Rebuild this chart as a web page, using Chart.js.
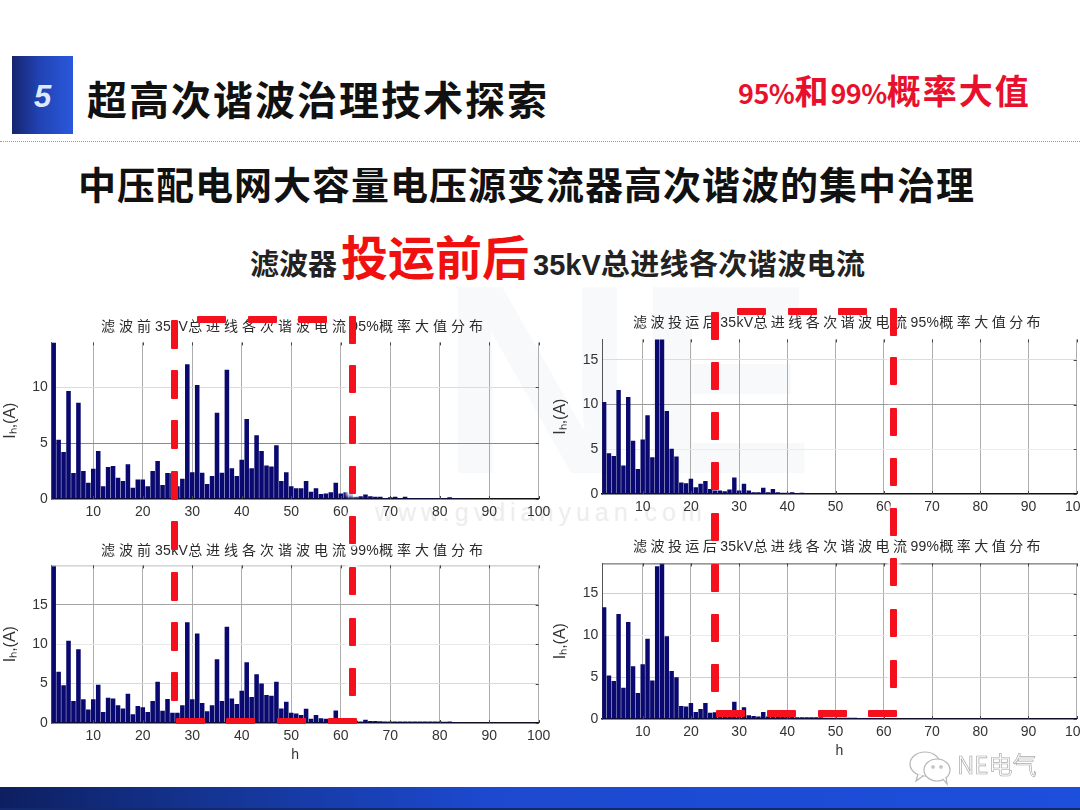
<!DOCTYPE html>
<html lang="zh">
<head>
<meta charset="utf-8">
<title>超高次谐波治理技术探索</title>
<script src="https://cdn.jsdelivr.net/npm/chart.js@4"></script>
<style>
html, body { margin: 0; padding: 0; background: #fff; }
body { position: relative; width: 1080px; height: 810px; overflow: hidden; font-family: "Noto Sans CJK SC", sans-serif; }
.abs { position: absolute; white-space: nowrap; }
#badge { left: 12px; top: 56px; width: 61px; height: 78px; background: linear-gradient(90deg, #16246e 0%, #2143b4 45%, #2a58dc 100%); box-shadow: 0 0 3px #fff; }
#badge span { position: absolute; left: 0; right: 0; top: 23px; text-align: center; color: #dfe9ff; font: italic bold 31px "Liberation Sans", sans-serif; }
#head { left: 87px; top: 68px; font-size: 40px; line-height: 60px; font-weight: 700; letter-spacing: 2px; color: #111; }
#prob { left: 738px; top: 65px; font-size: 34px; line-height: 50px; font-weight: 700; letter-spacing: 2px; color: #e8112d; }
#prob i { font-style: normal; font-size: 27px; letter-spacing: -.5px; }
#rule { left: 0; top: 141px; width: 1080px; border-top: 1px dotted #999; }
#sub { left: 78px; top: 155px; font-size: 38px; line-height: 56px; font-weight: 700; letter-spacing: 1px; color: #111; }
#line3a { left: 250px; top: 240px; font-size: 29px; line-height: 44px; font-weight: 700; color: #222; }
#line3b { left: 341px; top: 220px; font-size: 47px; line-height: 70px; font-weight: 700; color: #f01010; }
#line3c { left: 533px; top: 240px; font-size: 29px; line-height: 44px; font-weight: 700; color: #222; letter-spacing: .4px; }
#line3c i { font-style: normal; font-family: "Liberation Sans", sans-serif; letter-spacing: 0; }
#markNE { left: 440px; top: 230px; font: bold 270px/300px "Liberation Sans", sans-serif; color: #f8f9fa; }
#markUrl { left: 375px; top: 497px; font: 25px/30px "Liberation Sans", sans-serif; letter-spacing: 5px; color: #ededed; }
canvas { position: absolute; display: block; }
.title { font-size: 14px; line-height: 20px; letter-spacing: 4px; color: #2a2a2a; }
.title.after { letter-spacing: 3.45px; }
.title i { font-style: normal; font-family: "Liberation Sans", sans-serif; letter-spacing: .3px; }
.dash { position: absolute; background: #f5101e; border-radius: 1px; }
.halo { box-shadow: 0 0 3px 3px rgba(255,255,255,.8); }
#bar { left: 0; top: 787px; width: 1080px; height: 23px; background: linear-gradient(90deg, #0d1f60 0%, #14338f 18%, #1c49cf 45%, #1c4fdc 100%); border-bottom: 2px solid #12296e; box-sizing: border-box; }
#wx { left: 908px; top: 750px; }
#ne { left: 957px; top: 746px; font-size: 24px; line-height: 36px; color: #fff; -webkit-text-stroke: .7px #a9a9a9; }
</style>
</head>
<body>
<div class="abs" id="markNE">NE</div>
<div class="abs" id="markUrl">www.gvdianyuan.com</div>
<div class="abs" id="badge"><span>5</span></div>
<div class="abs" id="head">超高次谐波治理技术探索</div>
<div class="abs" id="prob"><i>95%</i>和<i>99%</i>概率大值</div>
<div class="abs" id="rule"></div>
<div class="abs" id="sub">中压配电网大容量电压源变流器高次谐波的集中治理</div>
<div class="abs" id="line3a">滤波器</div>
<div class="abs" id="line3b">投运前后</div>
<div class="abs" id="line3c"><i>35kV</i>总进线各次谐波电流</div>

<canvas id="chartBefore95" style="left:0;top:330px" width="560" height="190"></canvas>
<canvas id="chartBefore99" style="left:0;top:553px" width="560" height="213"></canvas>
<canvas id="chartAfter95" style="left:550px;top:327px" width="550" height="190"></canvas>
<canvas id="chartAfter99" style="left:550px;top:551px" width="550" height="211"></canvas>

<div class="abs title" style="left:101px;top:315px">滤波前<i>35kV</i>总进线各次谐波电流<i>95%</i>概率大值分布</div>
<div class="abs title" style="left:101px;top:539px">滤波前<i>35kV</i>总进线各次谐波电流<i>99%</i>概率大值分布</div>
<div class="abs title after" style="left:633px;top:311px">滤波投运后<i>35kV</i>总进线各次谐波电流<i>95%</i>概率大值分布</div>
<div class="abs title after" style="left:633px;top:535px">滤波投运后<i>35kV</i>总进线各次谐波电流<i>99%</i>概率大值分布</div>

<div id="dashes"></div>

<div class="abs" id="bar"></div>
<svg class="abs" id="wx" width="46" height="36" viewBox="0 0 46 36" fill="#fff" stroke="#b5b5b5" stroke-width="1.2">
  <ellipse cx="17" cy="14" rx="15" ry="12"/>
  <path d="M10 24 L8 31 L15 26"/>
  <ellipse cx="29" cy="20" rx="13" ry="11"/>
  <path d="M35 29 L39 34 L38 27"/>
  <circle cx="25" cy="17" r="1.2"/>
  <circle cx="33" cy="17" r="1.2"/>
</svg>
<div class="abs" id="ne">NE电气</div>

<script>
// Datos
const harmonics = [2, 3, 4, 5, 6, 7, 8, 9, 10, 11, 12, 13, 14, 15, 16, 17, 18, 19, 20, 21, 22, 23, 24, 25, 26, 27, 28, 29, 30, 31,
    32, 33, 34, 35, 36, 37, 38, 39, 40, 41, 42, 43, 44, 45, 46, 47, 48, 49, 50, 51, 52, 53, 54, 55, 56, 57, 58, 59, 60, 61,
    62, 63, 64, 65, 66, 67, 68, 69, 70, 71, 72, 73, 74, 75, 76, 77, 78, 79, 80, 81, 82, 83, 84, 85, 86, 87, 88, 89, 90, 91,
    92, 93, 94, 95, 96, 97, 98, 99, 100];

const before95 = [14, 5.3, 4.2, 9.65, 2.33, 8.6, 2.5, 1.45, 2.7, 4.3, 1.15, 2.85, 2.95, 1.9, 1.6, 3.1, 1.0, 1.75, 1.75, 1.15, 2.5, 3.4, 1.25, 2.33, 2.3, 1.15, 1.8, 12.05, 2.4, 10.2,
    2.35, 1.35, 2.05, 7.7, 2.35, 11.55, 2.75, 2.05, 3.5, 7.15, 2.75, 5.7, 4.3, 3.0, 2.9, 4.8, 1.6, 2.4, 1.15, 0.95, 0.95, 1.6, 0.65, 0.95, 0.45, 0.5, 0.6, 1.45, 0.5, 0.6,
    0.5, 0.2, 0.25, 0.4, 0.25, 0.2, 0.2, 0.1, 0.15, 0.2, 0.1, 0.2, 0.1, 0.1, 0.08, 0.08, 0.08, 0.08, 0.1, 0.08, 0.15, 0.08, 0.06, 0.06, 0.06, 0.05, 0.05, 0.05, 0.05, 0.05,
    0.05, 0.05, 0.05, 0.05, 0.05, 0.05, 0.05, 0.05, 0.05];

const before99 = [20, 6.5, 4.8, 10.45, 2.8, 9.35, 3.0, 1.7, 3.0, 4.85, 1.4, 3.2, 3.1, 2.25, 1.85, 3.7, 1.1, 2.15, 2.0, 1.4, 2.8, 5.25, 1.55, 3.05, 1.3, 1.3, 2.25, 12.8, 3.0, 11.35,
    2.55, 1.5, 2.25, 8.1, 2.8, 12.2, 3.1, 2.4, 4.1, 7.7, 3.3, 6.2, 5.0, 3.55, 3.45, 5.25, 1.85, 2.7, 1.3, 1.2, 1.0, 1.8, 0.55, 1.0, 0.6, 0.55, 0.35, 1.6, 0.4, 0.4,
    0.35, 0.3, 0.2, 0.4, 0.25, 0.25, 0.22, 0.2, 0.2, 0.2, 0.2, 0.18, 0.18, 0.18, 0.18, 0.18, 0.18, 0.18, 0.2, 0.15, 0.2, 0.1, 0.1, 0.08, 0.08, 0.08, 0.08, 0.08, 0.08, 0.08,
    0.08, 0.08, 0.08, 0.08, 0.08, 0.08, 0.08, 0.08, 0.08];

const after95 = [10.3, 4.55, 4.25, 11.65, 3.2, 10.85, 5.95, 2.8, 6.1, 8.8, 4.1, 17.4, 17.4, 9.3, 5.05, 4.2, 1.3, 1.2, 1.7, 0.75, 1.15, 1.45, 0.55, 0.4, 0.4, 0.3, 0.5, 1.85, 0.4, 1.15,
    0.4, 0.2, 0.2, 0.7, 0.2, 0.55, 0.2, 0.15, 0.15, 0.2, 0.1, 0.15, 0.08, 0.08, 0.08, 0.12, 0.08, 0.06, 0.06, 0.06, 0.06, 0.06, 0.06, 0.06, 0.06, 0.06, 0.05, 0.05, 0.05, 0.05,
    0.05, 0.05, 0.05, 0.05, 0.05, 0.05, 0.05, 0.05, 0.05, 0.05, 0.05, 0.05, 0.05, 0.05, 0.05, 0.05, 0.05, 0.05, 0.05, 0.05, 0.05, 0.05, 0.05, 0.05, 0.05, 0.05, 0.05, 0.05, 0.05, 0.05,
    0.05, 0.05, 0.05, 0.05, 0.05, 0.05, 0.05, 0.05, 0.05];

const after99 = [13.35, 5.2, 4.55, 12.55, 3.75, 11.6, 6.3, 3.1, 6.55, 9.6, 4.6, 18.25, 18.6, 9.9, 5.75, 5.0, 1.55, 1.5, 1.9, 0.85, 1.2, 1.9, 0.75, 0.8, 0.8, 0.7, 0.9, 2.05, 0.9, 1.4,
    0.45, 0.35, 0.3, 0.85, 0.3, 0.3, 0.25, 0.25, 0.25, 0.25, 0.2, 0.2, 0.2, 0.2, 0.2, 0.2, 0.15, 0.15, 0.15, 0.15, 0.15, 0.15, 0.15, 0.12, 0.12, 0.12, 0.12, 0.12, 0.12, 0.1,
    0.1, 0.1, 0.1, 0.1, 0.1, 0.1, 0.1, 0.1, 0.1, 0.08, 0.08, 0.08, 0.08, 0.08, 0.08, 0.08, 0.08, 0.08, 0.08, 0.08, 0.08, 0.08, 0.08, 0.08, 0.08, 0.08, 0.08, 0.08, 0.08, 0.08,
    0.08, 0.08, 0.08, 0.08, 0.08, 0.08, 0.08, 0.08, 0.08];

const xTicks = [10, 20, 30, 40, 50, 60, 70, 80, 90, 100];
const yTicksBefore95 = [0, 5, 10];
const yTicksOthers = [0, 5, 10, 15];

// Marcas cortas hacia dentro y linea superior, estilo MATLAB
const matlabFrame = {
    id: 'matlabFrame',
    afterDatasetsDraw(chart, args, opts) {
        const { ctx, chartArea: a, scales: { x, y } } = chart;
        ctx.save();
        ctx.lineWidth = 1;
        if (opts.top) {
            ctx.strokeStyle = opts.top;
            ctx.beginPath();
            ctx.moveTo(a.left, a.top + .5);
            ctx.lineTo(a.right, a.top + .5);
            ctx.stroke();
        }
        ctx.strokeStyle = '#444';
        ctx.beginPath();
        xTicks.forEach(v => {
            const px = Math.round(x.getPixelForValue(v)) + .5;
            ctx.moveTo(px, a.top);
            ctx.lineTo(px, a.top + 3);
            ctx.moveTo(px, a.bottom);
            ctx.lineTo(px, a.bottom - 3);
        });
        y.ticks.forEach(t => {
            const py = Math.round(y.getPixelForValue(t.value)) + .5;
            ctx.moveTo(a.right - 3, py);
            ctx.lineTo(a.right, py);
        });
        ctx.stroke();
        ctx.restore();
    }
};

function drawChart(id, values, cfg) {
    const canvas = document.getElementById(id);
    new Chart(canvas, {
        type: 'bar',
        data: {
            datasets: [{
                data: harmonics.map((h, i) => ({ x: h, y: values[i] })),
                backgroundColor: '#09096f',
                categoryPercentage: 1,
                barPercentage: 0.92
            }]
        },
        options: {
            responsive: false,
            animation: false,
            layout: { padding: { left: 0, top: 11, right: cfg.padRight, bottom: 0 } },
            plugins: {
                legend: { display: false },
                tooltip: { enabled: false },
                matlabFrame: { top: cfg.topLine }
            },
            scales: {
                x: {
                    type: 'linear',
                    offset: false,
                    min: 1.6,
                    max: 100,
                    afterBuildTicks: axis => { axis.ticks = xTicks.map(v => ({ value: v })); },
                    afterFit: axis => { axis.height = cfg.xHeight; },
                    grid: { color: '#adadad', drawTicks: false, offset: false, lineWidth: 1 },
                    border: { color: '#111', width: 1.5 },
                    ticks: {
                        autoSkip: false,
                        maxRotation: 0,
                        padding: 5,
                        color: '#333',
                        font: { family: 'Liberation Sans', size: 14 }
                    },
                    title: {
                        display: cfg.showH,
                        text: 'h',
                        color: '#333',
                        padding: 2,
                        font: { family: 'Liberation Sans', size: 14 }
                    }
                },
                y: {
                    min: 0,
                    max: cfg.yMax,
                    afterBuildTicks: axis => { axis.ticks = cfg.yTicks.map(v => ({ value: v })); },
                    afterFit: axis => { axis.width = cfg.yWidth; },
                    grid: {
                        color: c => cfg.yGrid[c.tick.value] || 'rgba(0,0,0,0)',
                        drawTicks: false
                    },
                    border: { color: '#555', width: 1 },
                    ticks: {
                        padding: 4,
                        color: '#333',
                        font: { family: 'Liberation Sans', size: 14 }
                    },
                    title: {
                        display: true,
                        text: 'Iₕ,(A)',
                        color: '#333',
                        padding: 1,
                        font: { family: 'Liberation Sans', size: 16 }
                    }
                }
            }
        },
        plugins: [matlabFrame]
    });
}

drawChart('chartBefore95', before95, {
    yMax: 14, yTicks: yTicksBefore95, yWidth: 51.7, padRight: 21.3, xHeight: 21, showH: false,
    yGrid: { 5: '#8a8a8a', 10: '#dcdcdc' }
});
drawChart('chartBefore99', before99, {
    yMax: 20, yTicks: yTicksOthers, yWidth: 51.7, padRight: 21.3, xHeight: 43, showH: true, topLine: '#bdbdbd',
    yGrid: { 5: '#dadada', 10: '#e8e8e8', 15: '#a5a5a5' }
});
drawChart('chartAfter95', after95, {
    yMax: 17.3, yTicks: yTicksOthers, yWidth: 52.2, padRight: 23.3, xHeight: 23, showH: false,
    yGrid: { 5: '#ececec', 10: '#9a9a9a', 15: '#dcdcdc' }
});
drawChart('chartAfter99', after99, {
    yMax: 18.6, yTicks: yTicksOthers, yWidth: 52.2, padRight: 23.3, xHeight: 43, showH: true, topLine: '#555',
    yGrid: { 5: '#cfcfcf', 10: '#eaeaea', 15: '#cfcfcf' }
});

// Recuadros rojos discontinuos encima de las graficas
const dashBox = document.getElementById('dashes');
function addDash(left, top, width, height, cls) {
    const d = document.createElement('div');
    d.className = 'dash' + (cls ? ' ' + cls : '');
    d.style.cssText = `left:${left}px;top:${top}px;width:${width}px;height:${height}px`;
    dashBox.appendChild(d);
}
[320, 370, 420, 471, 521, 572, 622, 672].forEach(t => addDash(171, t, 7, 29));
addDash(349, 316, 7, 28);
[365, 416, 466, 516, 567, 618, 668].forEach(t => addDash(349, t, 7, 28, 'halo'));
[197, 248, 298].forEach(l => addDash(l, 316, 29, 7));
[176, 226, 277, 328].forEach(l => addDash(l, 718, 29, 6));
[312, 362, 412, 462, 513, 564, 614, 664].forEach(t => addDash(711, t, 8, 28));
addDash(890, 308, 7, 28);
[357, 408, 458, 508, 558, 609, 660].forEach(t => addDash(890, t, 7, 28, 'halo'));
[737, 788, 838].forEach(l => addDash(l, 308, 29, 7));
[716, 767, 818, 868].forEach(l => addDash(l, 710, 29, 7));
</script>
</body>
</html>
